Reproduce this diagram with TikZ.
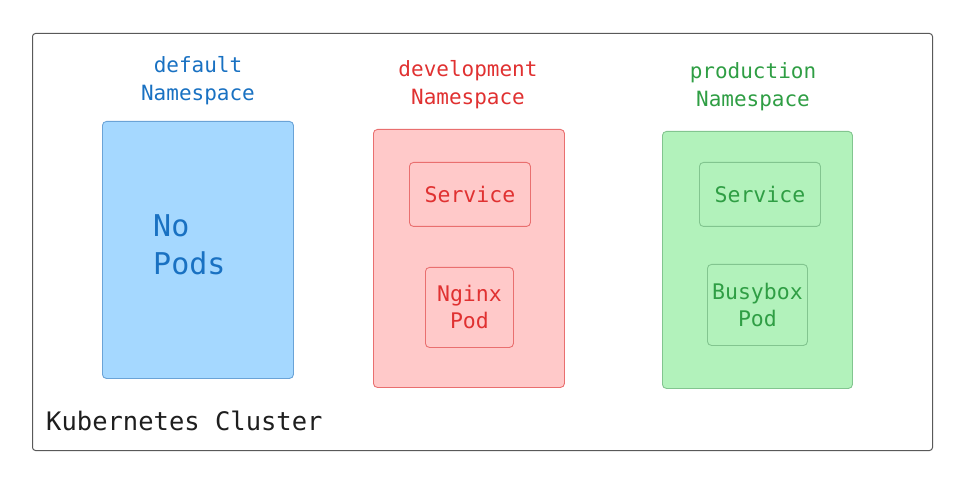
\documentclass[tikz,border=0pt]{standalone}
\usepackage{fontspec}
\setmonofont{DejaVu Sans Mono}
\definecolor{cblue}{HTML}{1971C2}
\definecolor{cred}{HTML}{E03131}
\definecolor{cgreen}{HTML}{2F9E44}
\definecolor{fblue}{HTML}{A5D8FF}
\definecolor{fred}{HTML}{FFC9C9}
\definecolor{fgreen}{HTML}{B2F2BB}
\definecolor{cdark}{HTML}{1E1E1E}
\tikzset{
  boxat/.style args={#1/#2/#3/#4}{rectangle, rounded corners=4pt, line width=0.9pt,
    minimum width=#3-#1, minimum height=#4-#2, inner sep=0pt, anchor=north west},
  bluebox/.style={draw=cblue!65, fill=fblue},
  redbox/.style={draw=cred!70, fill=fred},
  greenbox/.style={draw=cgreen!60, fill=fgreen},
  title/.style={font=\ttfamily\fontsize{21}{28}\selectfont, align=center, anchor=base, inner sep=0pt},
  label/.style={font=\ttfamily\fontsize{21.5}{27}\selectfont, align=center, inner sep=0pt},
}
\begin{document}
\begin{tikzpicture}[x=1pt,y=-1pt]
\useasboundingbox (0,0) rectangle (970,489);
% cluster frame
\node[boxat=32/33/932/450, draw=black!65, line width=1pt, rounded corners=3pt] (cluster) at (32,33) {};
\node[font=\ttfamily\fontsize{25.5}{30}\selectfont, anchor=base west, inner sep=0pt, text=cdark] (clabel) at (46,430) {Kubernetes Cluster};
% default namespace (anchor at baseline of last line)
\node[title, text=cblue] (tdef) at (198,101) {default\\Namespace};
\node[boxat=102/121/293/378, bluebox] (def) at (102,121) {};
\node[font=\ttfamily\fontsize{30}{38}\selectfont, align=left, anchor=base west, inner sep=0pt, text=cblue] (nopods) at (153,275) {No\\Pods};
% development namespace
\node[title, text=cred] (tdev) at (468,105) {development\\Namespace};
\node[boxat=373/129/564/387, redbox] (dev) at (373,129) {};
\node[boxat=409/162/530/226, redbox] (devsvc) at (409,162) {};
\node[label, text=cred] at (devsvc.center) {Service};
\node[boxat=425/267/513/347, redbox] (devpod) at (425,267) {};
\node[label, text=cred] at (devpod.center) {Nginx\\Pod};
% production namespace
\node[title, text=cgreen] (tprod) at (753,107) {production\\Namespace};
\node[boxat=662/131/852/388, greenbox] (prod) at (662,131) {};
\node[boxat=699/162/820/226, greenbox] (prodsvc) at (699,162) {};
\node[label, text=cgreen] at (prodsvc.center) {Service};
\node[boxat=707/264/807/345, greenbox] (prodpod) at (707,264) {};
\node[label, text=cgreen] at (prodpod.center) {Busybox\\Pod};
\end{tikzpicture}
\end{document}
